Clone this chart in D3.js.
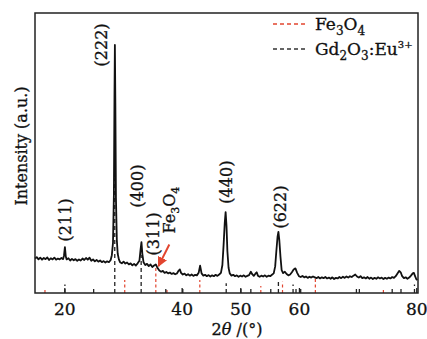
<!DOCTYPE html>
<html>
<head>
<meta charset="utf-8">
<script src="https://cdn.jsdelivr.net/npm/d3@7"></script>
<style>
  body { margin: 0; background: #fff; }
  svg text { font-family: "DejaVu Serif", "Liberation Serif", serif; fill: #111; stroke: #111; stroke-width: 0.3; }
</style>
</head>
<body>
<div id="container"></div>
<script>
// XRD scan, [2theta, intensity]
const xrdScan = [
  [15.0,12.3],[15.3,12.8],[15.6,12.0],[15.9,12.6],[16.2,11.9],[16.5,12.5],[16.8,12.1],[17.1,12.7],
  [17.4,11.8],[17.7,12.4],[18.0,12.0],[18.3,12.6],[18.6,11.9],[18.9,12.3],[19.2,12.0],[19.5,12.5],
  [19.8,12.1],[19.95,13.5],[20.1,16.4],[20.25,13.0],[20.4,12.0],[20.7,12.4],[21.0,11.6],[21.3,12.2],
  [21.6,11.7],[21.9,12.1],[22.2,11.5],[22.5,12.0],[22.8,11.6],[23.1,12.3],[23.4,11.8],[23.7,12.5],
  [24.0,11.9],[24.3,12.6],[24.6,11.5],[24.9,12.0],[25.2,11.3],[25.5,11.8],[25.8,11.2],[26.1,11.6],
  [26.4,11.0],[26.7,11.4],[27.0,10.9],[27.3,11.3],[27.6,11.0],[27.9,11.8],[28.1,13.5],[28.3,18],
  [28.45,35],[28.55,70],[28.62,88.6],[28.7,68],[28.8,34],[28.95,19],[29.1,14],[29.3,12],
  [29.5,11.0],[29.8,10.6],[30.1,11.2],[30.4,10.5],[30.7,10.9],[31.0,10.2],[31.3,10.6],[31.6,9.9],
  [31.9,10.4],[32.2,9.8],[32.5,10.6],[32.8,11.5],[33.0,15.5],[33.15,18.2],[33.3,14.0],[33.5,11.0],
  [33.8,10.0],[34.1,10.4],[34.4,9.6],[34.7,10.2],[35.0,9.3],[35.3,9.8],[35.6,10.2],[35.9,8.9],
  [36.2,8.0],[36.5,7.6],[36.8,7.9],[37.1,7.2],[37.4,7.5],[37.7,7.0],[38.0,7.3],[38.3,6.8],
  [38.6,7.1],[38.9,6.7],[39.2,7.0],[39.5,8.0],[39.7,8.4],[39.9,7.2],[40.2,6.6],[40.5,6.9],
  [40.8,6.3],[41.1,6.7],[41.4,6.2],[41.7,6.6],[42.0,6.1],[42.3,6.5],[42.6,6.3],[42.9,7.2],
  [43.15,9.8],[43.4,7.0],[43.7,6.2],[44.0,6.5],[44.3,6.0],[44.6,6.4],[44.9,5.9],[45.2,6.3],
  [45.5,6.0],[45.8,6.5],[46.1,6.1],[46.4,6.6],[46.7,7.2],[46.95,10],[47.15,17],[47.35,25],
  [47.5,28.9],[47.65,24],[47.8,15],[48.0,9],[48.2,7.0],[48.5,6.2],[48.8,6.5],[49.1,6.0],
  [49.4,6.3],[49.7,5.8],[50.0,6.2],[50.3,5.9],[50.6,6.3],[50.9,5.8],[51.2,6.1],[51.5,6.4],
  [51.8,7.6],[52.0,6.8],[52.3,6.1],[52.6,7.0],[52.8,7.4],[53.0,6.2],[53.3,5.8],[53.6,6.2],
  [53.9,5.9],[54.2,6.3],[54.5,5.8],[54.8,6.2],[55.1,6.0],[55.4,6.5],[55.7,7.0],[55.95,9.5],
  [56.15,15],[56.35,20],[56.5,21.8],[56.65,19],[56.85,13],[57.05,8.2],[57.3,7.1],[57.6,7.6],
  [57.9,6.8],[58.2,6.3],[58.5,6.6],[58.8,7.4],[59.1,8.4],[59.4,8.8],[59.7,7.2],[60.0,6.0],
  [60.3,5.7],[60.6,6.1],[60.9,5.6],[61.2,5.9],[61.5,5.4],[61.8,5.8],[62.1,5.5],[62.4,5.9],
  [62.7,5.6],[63.0,5.3],[63.3,5.7],[63.6,5.2],[63.9,5.6],[64.2,5.3],[64.5,5.7],[64.8,5.2],
  [65.1,5.5],[65.4,5.1],[65.7,5.6],[66.0,5.0],[66.3,5.4],[66.6,5.2],[66.9,5.7],[67.2,5.3],
  [67.5,5.8],[67.8,5.4],[68.1,5.9],[68.4,5.5],[68.7,6.0],[69.0,5.7],[69.3,6.2],[69.6,6.6],
  [69.9,5.9],[70.2,5.5],[70.5,6.0],[70.8,5.3],[71.1,5.6],[71.4,5.2],[71.7,5.7],[72.0,5.1],
  [72.3,5.5],[72.6,5.0],[72.9,5.4],[73.2,5.1],[73.5,5.6],[73.8,5.2],[74.1,5.5],[74.4,5.0],
  [74.7,5.4],[75.0,5.1],[75.3,5.5],[75.6,5.2],[75.9,5.7],[76.2,5.4],[76.5,6.0],[76.8,7.0],
  [77.1,7.9],[77.35,7.4],[77.6,6.0],[77.9,5.3],[78.2,5.6],[78.5,5.1],[78.8,5.5],[79.1,6.2],
  [79.4,7.0],[79.6,7.2],[79.8,6.0],[80.0,5.0],[80.2,4.6]
];

// reference (standard card) lines, [2theta, height]
const gdRef = [
  [20.1,3],[25.0,2],[28.6,41],[33.1,13.6],[37.3,2],[40.2,2.5],[47.6,3.5],[50.1,2],[51.8,2],
  [55.2,2],[56.5,4],[59.0,3],[59.5,2],[60.3,2],[69.8,2],[70.3,2],[75.9,2],[77.4,2],[79.7,3]
];
const feRef = [
  [16.7,2],[30.3,4.6],[35.6,9],[37.5,2],[43.1,4.6],[53.5,2.5],[57.2,4],[62.8,5.7],[74.4,2]
];

const xTicks = [20, 40, 50, 60, 80];

// peak labels, anchored in data units
const peakNames = ['(211)', '(222)', '(400)', '(311)', '(440)', '(622)'];
const peakLabelAngle = [20.1, 26.3, 32.4, 35.1, 47.6, 56.8];
const peakLabelLevel = [26.1, 88.6, 38.2, 21.1, 39.6, 30.7];

const legendNames = ['Fe3O4', 'Gd2O3:Eu3+'];

const W = 427, H = 339;
const svg = d3.select('#container').append('svg')
  .attr('width', W).attr('height', H);

const x = d3.scaleLinear().domain([15, 80.3]).range([35, 418]);
const y = d3.scaleLinear().domain([0, 100]).range([293, 13]);

const red = '#e2452f';

// reference sticks
svg.append('g').selectAll('line').data(feRef).join('line')
  .attr('x1', d => x(d[0])).attr('x2', d => x(d[0]))
  .attr('y1', y(0)).attr('y2', d => y(d[1]))
  .attr('stroke', red).attr('stroke-width', 1.2)
  .attr('stroke-dasharray', '3,2.5');

svg.append('g').selectAll('line').data(gdRef).join('line')
  .attr('x1', d => x(d[0])).attr('x2', d => x(d[0]))
  .attr('y1', y(0)).attr('y2', d => y(d[1]))
  .attr('stroke', '#222').attr('stroke-width', 1.3)
  .attr('stroke-dasharray', '4,3');

// scan
const line = d3.line().x(d => x(d[0])).y(d => y(d[1]));
svg.append('path').datum(xrdScan)
  .attr('d', line)
  .attr('fill', 'none').attr('stroke', '#111')
  .attr('stroke-width', 1.8).attr('stroke-linejoin', 'round');

// frame + axis
svg.append('rect')
  .attr('x', x.range()[0]).attr('y', y.range()[1])
  .attr('width', x.range()[1] - x.range()[0])
  .attr('height', y.range()[0] - y.range()[1])
  .attr('fill', 'none').attr('stroke', '#222').attr('stroke-width', 1.5);

const xAxis = svg.append('g')
  .attr('transform', `translate(0,${y(0)})`)
  .call(d3.axisBottom(x).tickValues(xTicks).tickSizeInner(-5).tickSizeOuter(0).tickPadding(10));
xAxis.select('.domain').remove();
xAxis.selectAll('line').attr('stroke', '#222').attr('stroke-width', 1.3);
xAxis.selectAll('text')
  .attr('font-family', '"DejaVu Serif", serif').attr('font-size', 17).attr('fill', '#111');

svg.append('text')
  .attr('x', 237).attr('y', 335)
  .attr('text-anchor', 'middle').attr('font-size', 16)
  .call(t => {
    t.append('tspan').text('2');
    t.append('tspan').attr('font-style', 'italic').text('θ');
    t.append('tspan').text(' /(°)');
  });

svg.append('text')
  .attr('transform', 'translate(27,146) rotate(-90)')
  .attr('text-anchor', 'middle').attr('font-size', 16)
  .text('Intensity (a.u.)');

// peak labels
svg.append('g').selectAll('text').data(peakNames).join('text')
  .attr('transform', (d, i) => `translate(${x(peakLabelAngle[i])},${y(peakLabelLevel[i])}) rotate(-90)`)
  .attr('text-anchor', 'middle').attr('dy', '0.35em')
  .attr('font-size', 16)
  .text(d => d);

// Fe3O4 callout with arrow
const sub = (t, s) => t.append('tspan').attr('font-size', 11).attr('dy', 4).text(s);
svg.append('text')
  .attr('transform', `translate(${x(38.0)},${y(29.6)}) rotate(-90)`)
  .attr('text-anchor', 'middle').attr('dy', '0.3em').attr('font-size', 16)
  .call(t => {
    t.append('tspan').text('Fe');
    sub(t, '3');
    t.append('tspan').attr('dy', -4).text('O');
    sub(t, '4');
  });

svg.append('defs').append('marker')
  .attr('id', 'head').attr('viewBox', '0 0 10 10')
  .attr('refX', 9).attr('refY', 5)
  .attr('markerWidth', 5).attr('markerHeight', 5).attr('orient', 'auto')
  .append('path').attr('d', 'M0,0L10,5L0,10z').attr('fill', red);

svg.append('line')
  .attr('x1', x(37.9)).attr('y1', y(17.3))
  .attr('x2', x(36.05)).attr('y2', y(9.6))
  .attr('stroke', red).attr('stroke-width', 2)
  .attr('marker-end', 'url(#head)');

// legend
const leg = svg.append('g').attr('transform', 'translate(273,24)');
const legColors = [red, '#333'];
legendNames.forEach((name, i) => {
  const g = leg.append('g').attr('transform', `translate(0,${i * 25})`);
  g.append('line').attr('x1', 0).attr('x2', 34)
    .attr('stroke', legColors[i]).attr('stroke-width', 1.4)
    .attr('stroke-dasharray', '4,3');
  const t = g.append('text').attr('x', 42).attr('y', 6).attr('font-size', 17);
  if (i === 0) {
    t.append('tspan').text('Fe');
    t.append('tspan').attr('font-size', 12).attr('dy', 5).text('3');
    t.append('tspan').attr('dy', -5).text('O');
    t.append('tspan').attr('font-size', 12).attr('dy', 5).text('4');
  } else {
    t.append('tspan').text('Gd');
    t.append('tspan').attr('font-size', 12).attr('dy', 5).text('2');
    t.append('tspan').attr('dy', -5).text('O');
    t.append('tspan').attr('font-size', 12).attr('dy', 5).text('3');
    t.append('tspan').attr('dy', -5).text(':Eu');
    t.append('tspan').attr('font-size', 10).attr('dy', -7).text('3+');
  }
});
</script>
</body>
</html>
